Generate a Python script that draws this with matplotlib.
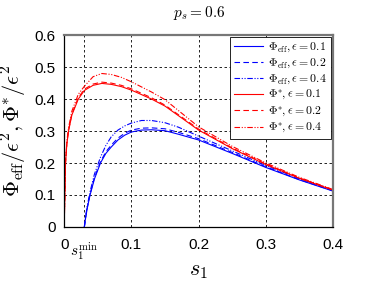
import numpy as np
import matplotlib
matplotlib.use("Agg")
import matplotlib.pyplot as plt

plt.rcParams['mathtext.fontset'] = 'cm'
plt.rcParams['font.family'] = ['Liberation Sans', 'DejaVu Sans']

# ---------------- data ----------------
# red curves: Phi* / eps^2
s_red = [0.0, 0.001, 0.002, 0.004, 0.0065, 0.0114, 0.021, 0.03, 0.043, 0.056,
         0.07, 0.085, 0.1, 0.13, 0.15, 0.2, 0.25, 0.3, 0.35, 0.4]
phi_star_01 = [0.0, 0.1, 0.2, 0.26, 0.3, 0.35, 0.40, 0.427, 0.443, 0.449,
               0.446, 0.439, 0.428, 0.40, 0.378, 0.303, 0.245, 0.195, 0.152, 0.115]
phi_star_02 = [0.0, 0.1, 0.2, 0.262, 0.303, 0.353, 0.404, 0.431, 0.447, 0.453,
               0.45, 0.443, 0.432, 0.404, 0.381, 0.306, 0.247, 0.197, 0.153, 0.116]
phi_star_04 = [0.0, 0.1, 0.205, 0.268, 0.31, 0.362, 0.415, 0.44, 0.47, 0.48,
               0.477, 0.468, 0.454, 0.422, 0.398, 0.313, 0.252, 0.2, 0.155, 0.117]

# blue curves: Phi_eff / eps^2
s_blue = [0.03, 0.032, 0.0345, 0.0385, 0.045, 0.054, 0.062, 0.07, 0.08, 0.09,
          0.1, 0.115, 0.13, 0.15, 0.17, 0.2, 0.25, 0.3, 0.35, 0.4]
phi_eff_01 = [0.0, 0.03, 0.06, 0.1, 0.15, 0.2, 0.23, 0.25, 0.272, 0.287,
              0.297, 0.303, 0.304, 0.301, 0.29, 0.272, 0.23, 0.186, 0.147, 0.112]
phi_eff_02 = [0.0, 0.031, 0.062, 0.103, 0.154, 0.204, 0.235, 0.256, 0.278, 0.293,
              0.303, 0.309, 0.31, 0.307, 0.296, 0.276, 0.233, 0.188, 0.148, 0.113]
phi_eff_04 = [0.0, 0.035, 0.068, 0.11, 0.165, 0.218, 0.255, 0.282, 0.303, 0.316,
              0.325, 0.333, 0.333, 0.326, 0.312, 0.284, 0.238, 0.192, 0.151, 0.115]

s1_min = 0.03
xticks = [0, s1_min, 0.1, 0.2, 0.3, 0.4]
xticklabels = ['0', '', '0.1', '0.2', '0.3', '0.4']
yticks = [0, 0.1, 0.2, 0.3, 0.4, 0.5, 0.6]
yticklabels = ['0', '0.1', '0.2', '0.3', '0.4', '0.5', '0.6']

# ---------------- figure ----------------
fig = plt.figure(figsize=(3.82, 2.88), dpi=100)
ax = fig.add_axes([0.168, 0.212, 0.704, 0.666])

lw = 0.8
dash = (0, (5, 3))
dashdotdot = (0, (5, 1.5, 1, 1.5, 1, 1.5))
ax.plot(s_blue, phi_eff_01, color='blue', lw=lw, ls='-',
        label=r'$\Phi_{\rm eff}, \epsilon = 0.1$')
ax.plot(s_blue, phi_eff_02, color='blue', lw=lw, ls=dash,
        label=r'$\Phi_{\rm eff}, \epsilon = 0.2$')
ax.plot(s_blue, phi_eff_04, color='blue', lw=lw, ls=dashdotdot,
        label=r'$\Phi_{\rm eff}, \epsilon = 0.4$')
ax.plot(s_red, phi_star_01, color='red', lw=lw, ls='-',
        label=r'$\Phi^{*}, \epsilon = 0.1$')
ax.plot(s_red, phi_star_02, color='red', lw=lw, ls=dash,
        label=r'$\Phi^{*}, \epsilon = 0.2$')
ax.plot(s_red, phi_star_04, color='red', lw=lw, ls=dashdotdot,
        label=r'$\Phi^{*}, \epsilon = 0.4$')

ax.set_xlim(0, 0.4)
ax.set_ylim(0, 0.6)
ax.set_xticks(xticks)
ax.set_xticklabels(xticklabels)
ax.set_yticks(yticks)
ax.set_yticklabels(yticklabels)
ax.tick_params(labelsize=11, direction='in', length=0)
ax.tick_params(axis='x', pad=8)
ax.tick_params(axis='y', pad=6)

# s1^min label sits a bit lower than the other tick labels
ax.text(s1_min, -0.075, r'$s_1^{\rm min}$', transform=ax.get_xaxis_transform(),
        ha='center', va='top', fontsize=11)

ax.grid(True, color='black', ls=(0, (3, 3)), lw=0.6)

for side in ['top', 'right']:
    ax.spines[side].set_color('#777777')
    ax.spines[side].set_linewidth(1.6)
for side in ['left', 'bottom']:
    ax.spines[side].set_color('black')
    ax.spines[side].set_linewidth(0.9)

ax.set_xlabel(r'$s_1$', fontsize=16, labelpad=6)
ax.set_ylabel(r'$\Phi_{\rm eff}/\epsilon^2, \Phi^{*}/\epsilon^2$', fontsize=16, labelpad=4)
ax.set_title(r'$p_s = 0.6$', fontsize=11, pad=13)

leg = ax.legend(loc='upper right', fontsize=8.5, frameon=True, fancybox=False,
                edgecolor='black', framealpha=1, borderaxespad=0.15,
                handlelength=2.4, handletextpad=0.5, labelspacing=0.2,
                borderpad=0.35)
leg.get_frame().set_linewidth(0.6)

fig.savefig('out.png', dpi=100)
